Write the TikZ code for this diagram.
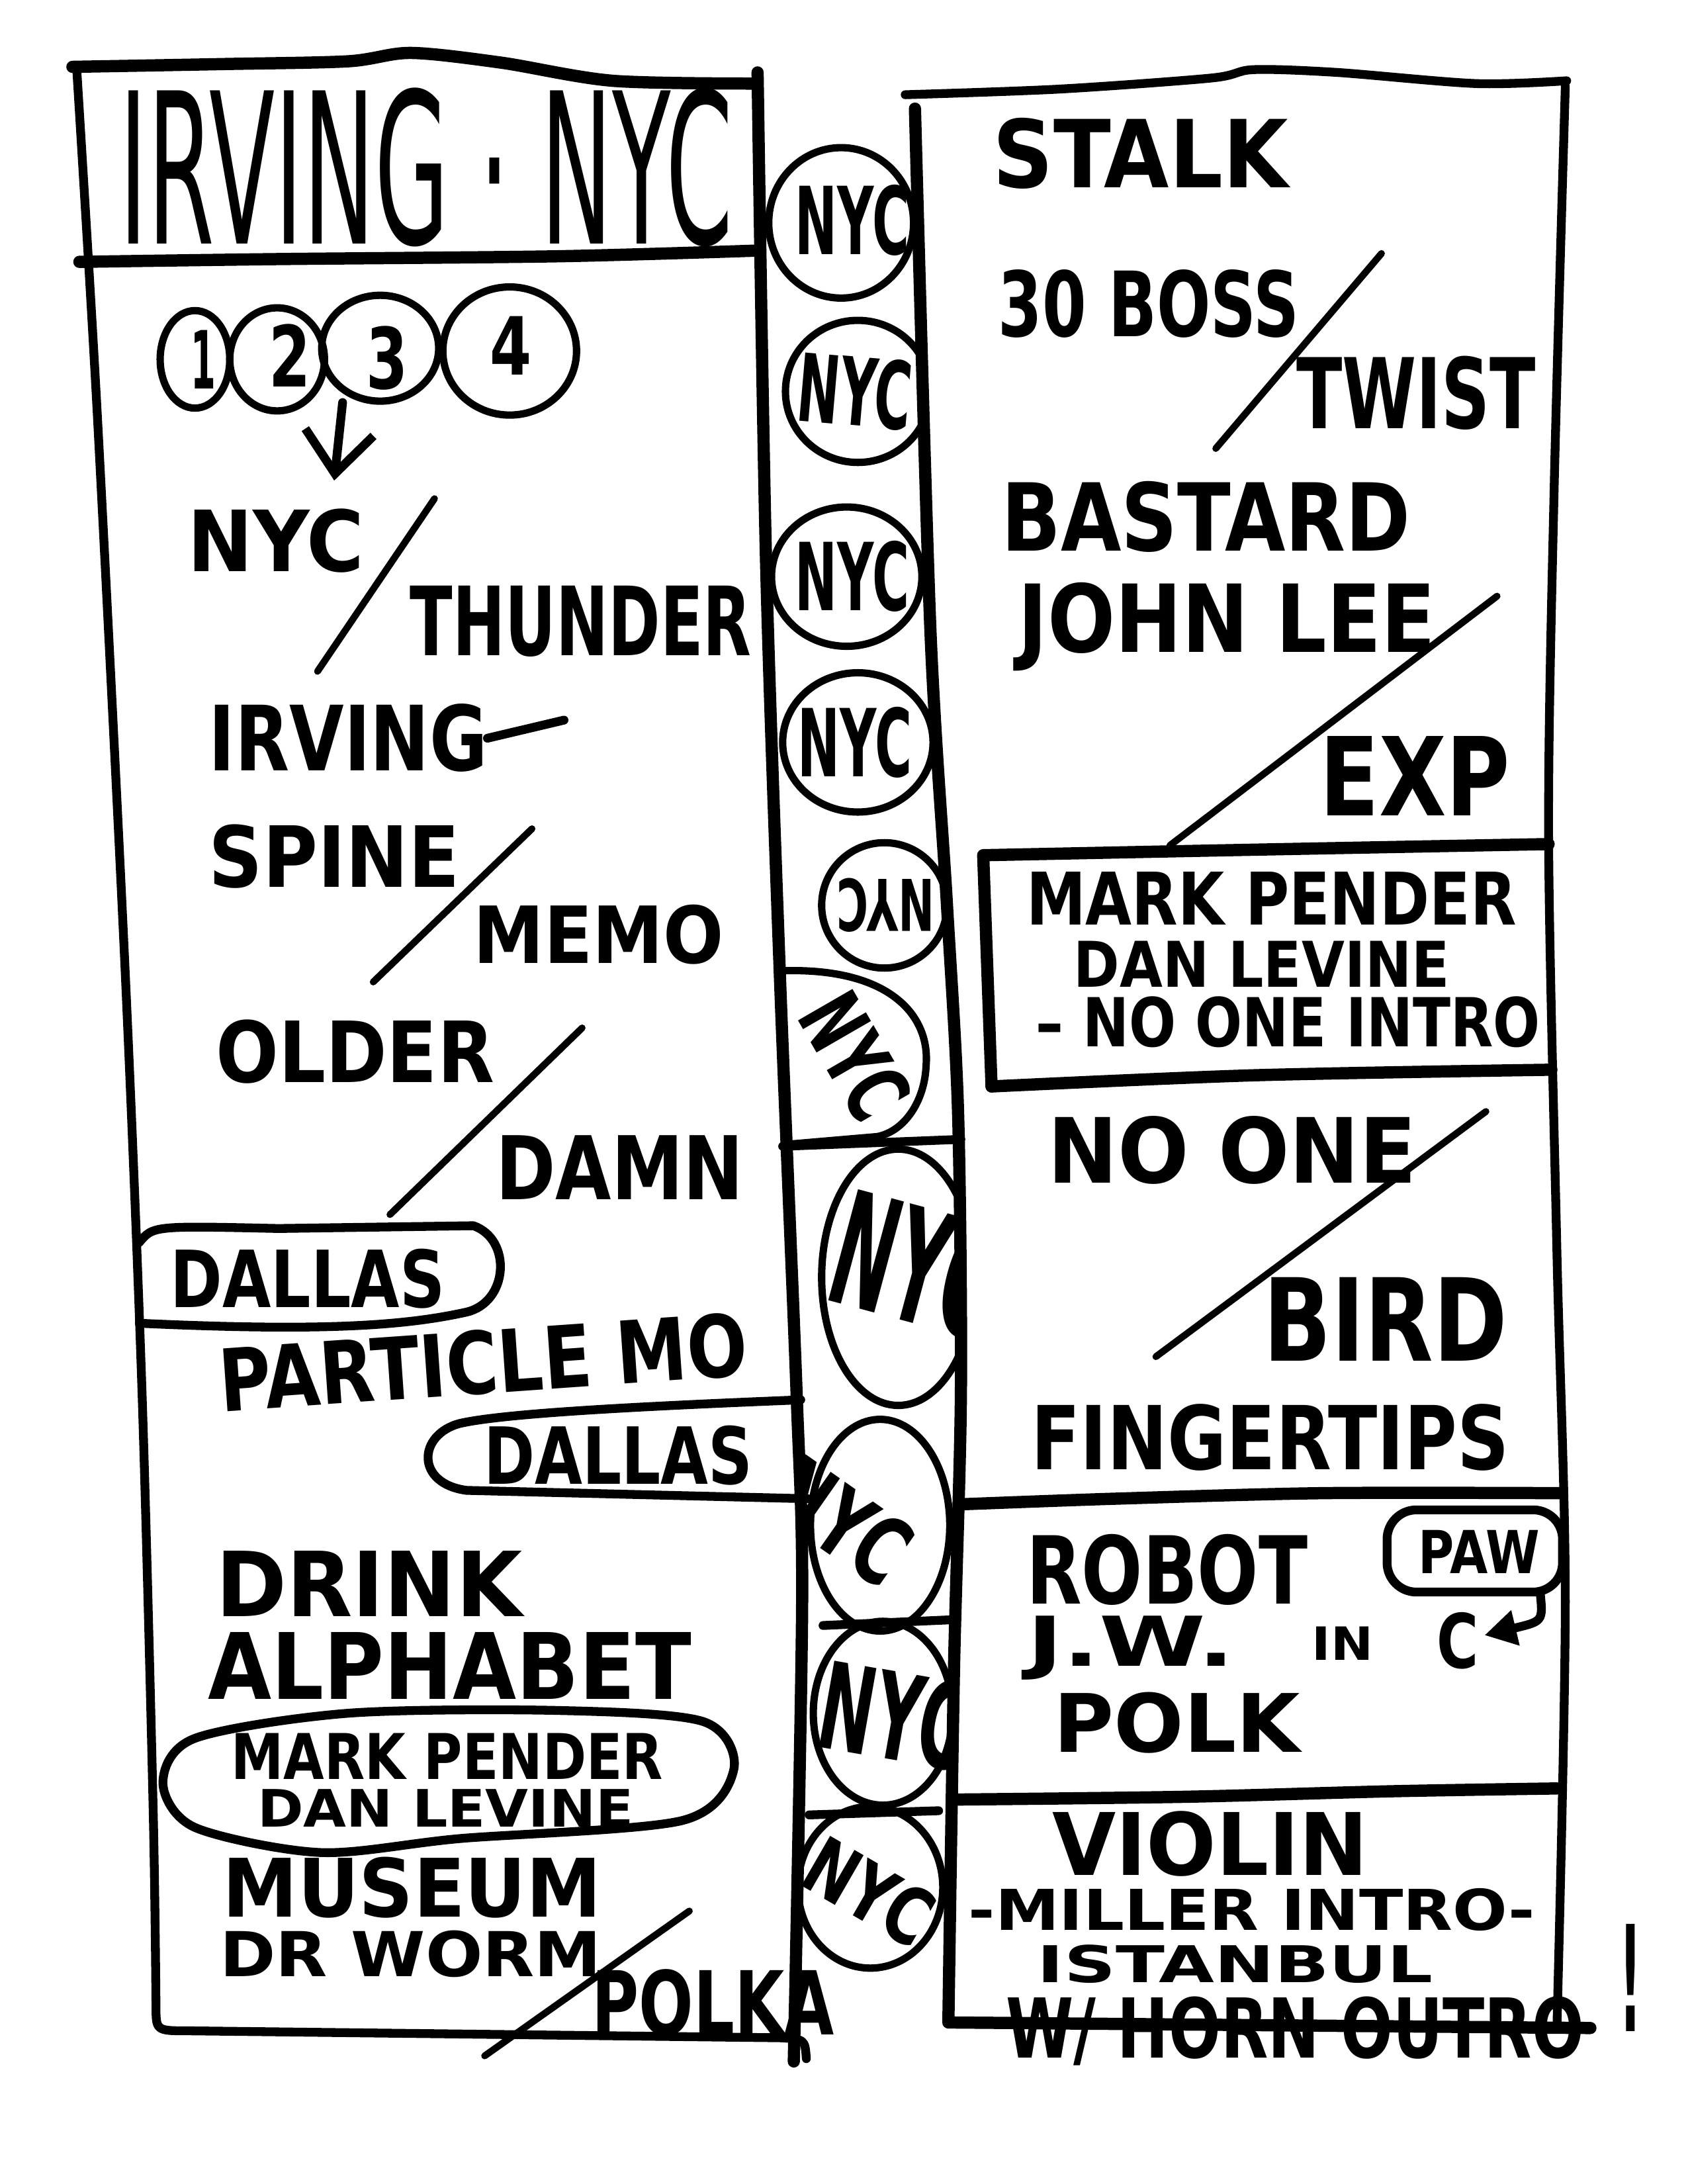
\documentclass[tikz,border=0pt]{standalone}
\usepackage{fontspec}
\setmainfont{DejaVu Sans}
\usepackage{graphicx}
\usetikzlibrary{arrows.meta}
\setlength{\unitlength}{0.02cm}
\newcommand{\hand}[3]{\resizebox{#1\unitlength}{#2\unitlength}{\bfseries #3}}
\newcommand{\thinhand}[3]{\resizebox{#1\unitlength}{#2\unitlength}{#3}}
\tikzset{
    every node/.style={inner sep=0pt, outer sep=0pt}
}
\tikzset{
    frame/.style={line width=5pt, line cap=round, line join=round},
    rule/.style={line width=3.6pt, line cap=round, line join=round},
    slash/.style={line width=2.8pt, line cap=round},
    ring/.style={line width=3pt}
}

\begin{document}
\begin{tikzpicture}[x=0.02cm, y=-0.02cm]
    \useasboundingbox (0,0) rectangle (1212,1568);

    % middle strip: the NYC rings
    \begin{scope}
        \clip plot[smooth] coordinates {(544,52) (550,400) (560,700) (572,1000) (576,1150) (570,1480)}
            -- plot[smooth] coordinates {(681,1452) (685,1200) (690,1000) (688,800) (680,650) (668,450) (657,78)} -- cycle;
        \draw[ring] (604,160) ellipse [x radius=52, y radius=54];
        \draw[ring] (616,281) ellipse [x radius=52, y radius=51];
        \draw[ring] (608,414) ellipse [x radius=54, y radius=50];
        \draw[ring] (616,533) ellipse [x radius=54, y radius=50];
        \draw[ring] (635,650) ellipse [x radius=45, y radius=45];
        \draw[ring] (560,697) .. controls (640,694) and (668,730) .. (665,765)
            .. controls (664,790) and (650,812) .. (630,816) -- (560,822);
        \draw[ring] (645,917) ellipse [x radius=55, y radius=92];
        \draw[ring] (632,1095) ellipse [x radius=50, y radius=76];
        \draw[ring] (634,1230) ellipse [x radius=50, y radius=66];
        \draw[ring] (625,1355) ellipse [x radius=52, y radius=58];

        \node (m1) at (612,158) {\hand{82}{50}{NYC}};
        \node (m2) at (614,281) [rotate=-5] {\hand{82}{50}{NYC}};
        \node (m3) at (612,414) {\hand{82}{50}{NYC}};
        \node (m4) at (614,533) {\hand{82}{50}{NYC}};
        \node (m5) at (636,650) [rotate=180] {\hand{70}{38}{NYC}};
        \node (m6) at (614,758) [rotate=-60] {\hand{92}{46}{NYC}};
        \node (m7) at (658,908) [rotate=-15] {\hand{118}{84}{NYC}};
        \node (m8) at (604,1092) [rotate=-35] {\hand{104}{50}{NYC}};
        \node (m9) at (642,1232) [rotate=-10] {\hand{106}{64}{NYC}};
        \node (m10) at (624,1358) [rotate=-30] {\hand{96}{42}{NYC}};
    \end{scope}

    % left column
    \draw[frame] plot[smooth] coordinates {(52,48) (160,46) (250,44) (295,38) (360,45) (440,58) (544,60)};
    \draw[rule] plot[smooth] coordinates {(55,48) (70,300) (90,700) (102,1000) (110,1300) (112,1440)}
        .. controls (112,1458) .. (135,1458) -- (560,1463) .. controls (578,1464) .. (579,1478);
    \draw[frame] plot[smooth] coordinates {(544,52) (550,400) (560,700) (572,1000) (576,1150) (570,1480)};
    \draw[frame] plot[smooth] coordinates {(57,188) (200,186) (400,184) (541,180)};

    % right column
    \draw[rule] plot[smooth] coordinates {(650,68) (760,64) (870,56) (900,50) (960,52) (1060,60) (1125,58)};
    \draw[frame] plot[smooth] coordinates {(657,78) (668,450) (680,650) (688,800) (690,1000) (685,1200) (681,1452)}
        -- (1142,1456);
    \draw[rule] plot[smooth] coordinates {(1124,62) (1116,350) (1112,600) (1118,900) (1124,1150) (1118,1455)};
    \draw[frame] (712,780) -- (706,614) .. controls (900,610) .. (1112,606);
    \draw[frame] plot[smooth] coordinates {(712,780) (900,772) (1114,768)};
    \draw[frame] plot[smooth] coordinates {(690,1080) (800,1076) (950,1072) (1120,1072)};
    \draw[frame] plot[smooth] coordinates {(684,1292) (850,1290) (1000,1286) (1118,1284)};

    % strip dividers
    \draw[rule] (562,823) -- (690,818);
    \draw[rule] (591,1167) -- (681,1163);
    \draw[rule] (581,1303) -- (674,1300);

    % title
    \node (title) at (306,120) {\thinhand{440}{112}{IRVING · NYC}};

    % left column entries
    \draw[ring] (140,258) ellipse [x radius=25, y radius=35];
    \draw[ring] (199,258) ellipse [x radius=34, y radius=37];
    \draw[ring] (273,250) ellipse [x radius=42, y radius=38];
    \draw[ring] (366,252) ellipse [x radius=48, y radius=46];
    \node (one) at (146,258) {\hand{18}{42}{1}};
    \node (two) at (208,255) {\hand{30}{45}{2}};
    \node (three) at (278,257) {\hand{30}{45}{3}};
    \node (four) at (367,248) {\hand{30}{42}{4}};
    \coordinate (pick) at (246,289);
    \coordinate (pickto) at (240,345);
    \draw[rule, -{Straight Barb[length=17pt, width=28pt]}] (pick) -- (pickto);

    \node (nyc) at (198,388) {\hand{127}{45}{NYC}};
    \node (thunder) at (417,446) {\hand{245}{50}{THUNDER}};
    \coordinate (sa1) at (228,482);
    \coordinate (sa2) at (312,358);
    \draw[slash] (sa1) -- (sa2);

    \node (irving) at (250,530) {\hand{200}{48}{IRVING}};
    \coordinate (irvtail) at (405,517);
    \draw[rule] (irving.east) -- (irvtail);

    \node (spine) at (240,615) {\hand{180}{45}{SPINE}};
    \node (memo) at (430,671) {\hand{180}{42}{MEMO}};
    \coordinate (sb1) at (268,705);
    \coordinate (sb2) at (382,595);
    \draw[slash] (sb1) -- (sb2);

    \node (older) at (255,755) {\hand{200}{45}{OLDER}};
    \node (damn) at (445,838) {\hand{178}{46}{DAMN}};
    \coordinate (sc1) at (280,872);
    \coordinate (sc2) at (418,738);
    \draw[slash] (sc1) -- (sc2);

    \draw[rule] (100,892) .. controls (110,880) .. (200,882) -- (340,880)
        .. controls (368,890) and (365,935) .. (335,942) .. controls (290,952) and (230,956) .. (100,950);
    \node (dallas1) at (221,918) {\hand{197}{42}{DALLAS}};

    \node (particle) at (347,978) [rotate=4] {\hand{380}{46}{PARTICLE MO}};

    \draw[rule] (575,1005) .. controls (450,1010) and (360,1015) .. (330,1022)
        .. controls (300,1030) and (298,1065) .. (335,1070) -- (580,1076);
    \node (dallas2) at (444,1045) {\hand{193}{42}{DALLAS}};

    \node (drink) at (265,1137) {\hand{220}{47}{DRINK}};
    \node (alphabet) at (323,1196) {\hand{347}{48}{ALPHABET}};

    \draw[rule] plot[smooth cycle] coordinates {(140,1248) (250,1230) (400,1228) (505,1236) (527,1270)
        (490,1307) (330,1320) (230,1330) (140,1312) (117,1280)};
    \node (mark1) at (321,1261) {\hand{310}{33}{MARK PENDER}};
    \node (dan1) at (320,1298) {\hand{270}{27}{DAN LEVINE}};

    \node (museum) at (296,1355) {\hand{272}{43}{MUSEUM}};
    \node (drworm) at (295,1403) {\hand{274}{33}{DR WORM}};
    \coordinate (sd1) at (348,1476);
    \coordinate (sd2) at (495,1372);
    \draw[slash] (sd1) -- (sd2);
    \node (polka) at (512,1438) {\hand{174}{47}{POLKA}};

    % right column entries
    \node (stalk) at (819,110) {\hand{212}{50}{STALK}};
    \node (boss) at (825,218) {\hand{216}{48}{30 BOSS}};
    \coordinate (se1) at (873,322);
    \coordinate (se2) at (992,182);
    \draw[slash] (se1) -- (se2);
    \node (twist) at (1017,282) {\hand{172}{52}{TWIST}};
    \node (bastard) at (866,371) {\hand{294}{50}{BASTARD}};
    \node (johnlee) at (881,450) {\hand{300}{50}{JOHN LEE}};
    \coordinate (sf1) at (840,607);
    \coordinate (sf2) at (1075,428);
    \draw[slash] (sf1) -- (sf2);
    \node (exp) at (1016,557) {\hand{137}{57}{EXP}};

    \node (mark2) at (913,645) {\hand{352}{38}{MARK PENDER}};
    \node (dan2) at (906,692) {\hand{270}{33}{DAN LEVINE}};
    \node (intro) at (925,734) {\hand{362}{36}{– NO ONE INTRO}};

    \node (noone) at (885,826) {\hand{265}{48}{NO ONE}};
    \coordinate (sg1) at (830,974);
    \coordinate (sg2) at (1067,798);
    \draw[slash] (sg1) -- (sg2);
    \node (bird) at (995,947) {\hand{175}{60}{BIRD}};
    \node (fingertips) at (912,1032) {\hand{343}{47}{FINGERTIPS}};

    \node (robot) at (838,1127) {\hand{202}{50}{ROBOT}};
    \draw[rule, rounded corners=12pt] (996,1084) rectangle (1122,1143);
    \node (paw) at (1062,1114) {\hand{87}{31}{PAW}};
    \node (jw) at (812,1183) {\hand{149}{36}{J.W.}};
    \node (in) at (964,1180) {\hand{44}{24}{IN}};
    \node (key) at (1047,1178) {\hand{30}{40}{C}};
    \coordinate (pawtail) at (1106,1144);
    \coordinate (pawtip) at (1066,1174);
    \draw[rule, -{Triangle[length=13pt, width=14pt]}] (pawtail) .. controls (1108,1164) .. (pawtip);
    \node (polk) at (845,1237) {\hand{177}{43}{POLK}};

    \node (violin) at (869,1324) {\hand{227}{46}{VIOLIN}};
    \node (miller) at (899,1371) {\hand{407}{30}{-MILLER INTRO-}};
    \node (istanbul) at (887,1410) {\hand{284}{27}{ISTANBUL}};
    \node (horn) at (930,1458) {\hand{415}{44}{W/ HORN OUTRO}};
    \node (bang) at (1171,1420) {\hand{16}{77}{!}};
\end{tikzpicture}
\end{document}
